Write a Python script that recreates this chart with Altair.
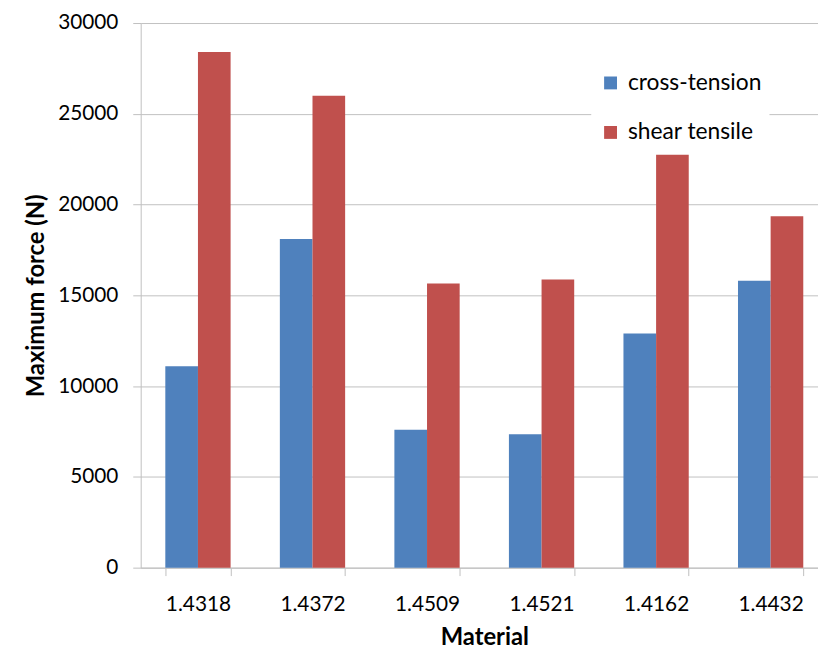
import altair as alt
import pandas as pd

materials = ["1.4318", "1.4372", "1.4509", "1.4521", "1.4162", "1.4432"]
cross_tension = [11100, 18100, 7600, 7350, 12900, 15800]
shear_tensile = [28400, 26000, 15650, 15870, 22750, 19350]
series = ["cross-tension", "shear tensile"]
colors = ["#4F81BD", "#C0504D"]

rows = []
for m, c, s in zip(materials, cross_tension, shear_tensile):
    rows.append({"Material": m, "Series": series[0], "Force": c})
    rows.append({"Material": m, "Series": series[1], "Force": s})
df = pd.DataFrame(rows)

FONT = "Lato"

chart = alt.Chart(df).mark_bar().encode(
    x=alt.X("Material:N", sort=materials,
            scale=alt.Scale(paddingInner=0.43, paddingOuter=0.215, range=[0, 694]),
            axis=alt.Axis(title="Material", labelAngle=0, tickBand="extent",
                          domainColor="#bfbfbf", tickColor="#bfbfbf", tickSize=8,
                          labelPadding=18, titlePadding=12, grid=False)),
    xOffset=alt.XOffset("Series:N", sort=series),
    y=alt.Y("Force:Q", scale=alt.Scale(domain=[0, 30000], nice=False),
            axis=alt.Axis(title="Maximum force (N)", values=[0, 5000, 10000, 15000, 20000, 25000, 30000],
                          format="d", domainColor="#bfbfbf", tickColor="#bfbfbf", tickSize=8,
                          labelPadding=15, titlePadding=9, gridColor="#c0c0c0")),
    color=alt.Color("Series:N", sort=series,
                    scale=alt.Scale(domain=series, range=colors),
                    legend=alt.Legend(title=None, orient="none", legendX=455, legendY=41,
                                      fillColor="white", padding=8, symbolType="square",
                                      symbolSize=169, symbolStrokeWidth=0, rowPadding=26,
                                      labelFontSize=23, labelFont=FONT, labelColor="#000000",
                                      labelOffset=6)),
).properties(
    width=684, height=550,
    autosize=alt.AutoSizeParams(type="none"),
    padding={"left": 134, "top": 12, "right": 0, "bottom": 81},
).configure_axis(
    labelFont=FONT, labelFontSize=21, labelColor="#000000",
    titleFont=FONT, titleFontSize=24, titleFontWeight="bold", titleColor="#000000",
).configure_view(stroke=None)

chart.save("out.html", embed_options={"renderer": "svg", "actions": False})
